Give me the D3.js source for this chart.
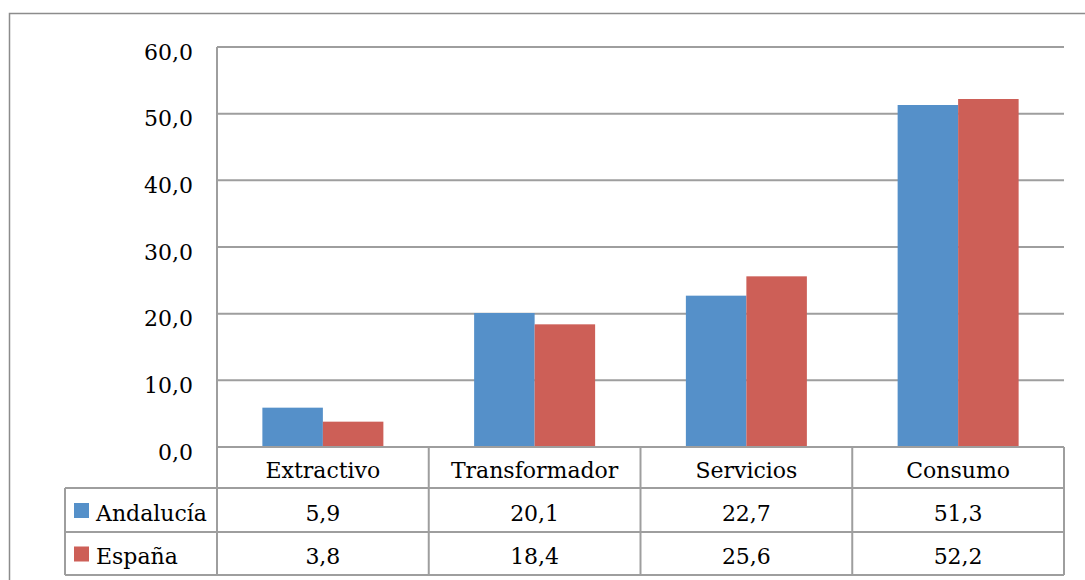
<!DOCTYPE html>
<html>
<head>
<meta charset="utf-8">
<script src="https://cdn.jsdelivr.net/npm/d3@7"></script>
<style>
  html, body { margin: 0; padding: 0; background: #fff; }
  svg text { font-family: "DejaVu Serif", serif; fill: #000; }
</style>
</head>
<body>
<div class="chart"></div>
<script>
const categories = ['Extractivo', 'Transformador', 'Servicios', 'Consumo'];
const seriesNames = ['Andalucía', 'España'];
const andalucia = [5.9, 20.1, 22.7, 51.3];
const espana = [3.8, 18.4, 25.6, 52.2];
const yTicks = [0, 10, 20, 30, 40, 50, 60];
const colors = ['#5590c9', '#cd5f57'];

const W = 1085, H = 580;
const plotL = 217, plotR = 1064, plotT = 47, plotB = 447;
const rowY = [447, 488, 532, 575];
const tableL = 65;
const lineCol = '#9e9e9e';
const fmt = v => d3.format('.1f')(v).replace('.', ',');

const svg = d3.select('.chart')
  .append('svg')
    .attr('width', W)
    .attr('height', H);

// outer frame
svg.append('rect')
  .attr('x', 9.5).attr('y', 13.5)
  .attr('width', 1100).attr('height', 600)
  .attr('fill', 'none')
  .attr('stroke', '#8c8c8c')
  .attr('stroke-width', 1.5);

const x = d3.scaleBand().domain(categories).range([plotL, plotR]).padding(0);
const xs = d3.scaleBand().domain(seriesNames).range([0, x.bandwidth()])
  .paddingInner(0).paddingOuter(0.75);
const y = d3.scaleLinear().domain([0, 60]).range([plotB, plotT]);

// gridlines
svg.append('g').selectAll('line')
  .data(yTicks)
  .enter().append('line')
    .attr('x1', plotL).attr('x2', plotR)
    .attr('y1', d => y(d)).attr('y2', d => y(d))
    .attr('stroke', lineCol)
    .attr('stroke-width', 2);

// tick labels
svg.append('g').selectAll('text')
  .data(yTicks)
  .enter().append('text')
    .attr('x', 193)
    .attr('y', d => y(d) + 5)
    .attr('text-anchor', 'end')
    .attr('dominant-baseline', 'central')
    .attr('font-size', 22)
    .text(d => fmt(d));

// bars
const series = [andalucia, espana];
const rows = categories.map((c, i) => ({cat: c, vals: seriesNames.map((s, j) => ({s, j, v: series[j][i]}))}));

const groups = svg.append('g').selectAll('g')
  .data(rows)
  .enter().append('g')
    .attr('transform', d => `translate(${x(d.cat)},0)`);

groups.selectAll('rect')
  .data(d => d.vals)
  .enter().append('rect')
    .attr('x', d => xs(d.s))
    .attr('width', xs.bandwidth())
    .attr('y', d => y(d.v))
    .attr('height', d => y(0) - y(d.v))
    .attr('fill', d => colors[d.j]);

// data table
const table = svg.append('g')
  .attr('fill', 'none')
  .attr('stroke', lineCol)
  .attr('stroke-width', 2);

table.append('line').attr('x1', plotL).attr('x2', plotR).attr('y1', rowY[0]).attr('y2', rowY[0]);
rowY.slice(1).forEach(r => {
  table.append('line').attr('x1', tableL).attr('x2', plotR).attr('y1', r).attr('y2', r);
});
table.append('line').attr('x1', plotL).attr('x2', plotL).attr('y1', plotT).attr('y2', rowY[3]);
table.append('line').attr('x1', tableL).attr('x2', tableL).attr('y1', rowY[1]).attr('y2', rowY[3]);
categories.forEach(c => {
  const xe = x(c) + x.bandwidth();
  table.append('line').attr('x1', xe).attr('x2', xe).attr('y1', rowY[0]).attr('y2', rowY[3]);
});

// header labels
svg.append('g').selectAll('text')
  .data(categories)
  .enter().append('text')
    .attr('x', d => x(d) + x.bandwidth() / 2)
    .attr('y', (rowY[0] + rowY[1]) / 2 + 3)
    .attr('text-anchor', 'middle')
    .attr('dominant-baseline', 'central')
    .attr('font-size', 22)
    .text(d => d);

// value rows
seriesNames.forEach((s, j) => {
  const cy = (rowY[j + 1] + rowY[j + 2]) / 2 + 3;
  svg.append('rect')
    .attr('x', 74).attr('y', cy - 10)
    .attr('width', 15).attr('height', 15)
    .attr('fill', colors[j]);
  svg.append('text')
    .attr('x', 96).attr('y', cy)
    .attr('dominant-baseline', 'central')
    .attr('font-size', 22)
    .text(s);
  svg.append('g').selectAll('text')
    .data(categories)
    .enter().append('text')
      .attr('x', d => x(d) + x.bandwidth() / 2)
      .attr('y', cy)
      .attr('text-anchor', 'middle')
      .attr('dominant-baseline', 'central')
      .attr('font-size', 22)
      .text((d, i) => fmt(series[j][i]));
});
</script>
</body>
</html>
